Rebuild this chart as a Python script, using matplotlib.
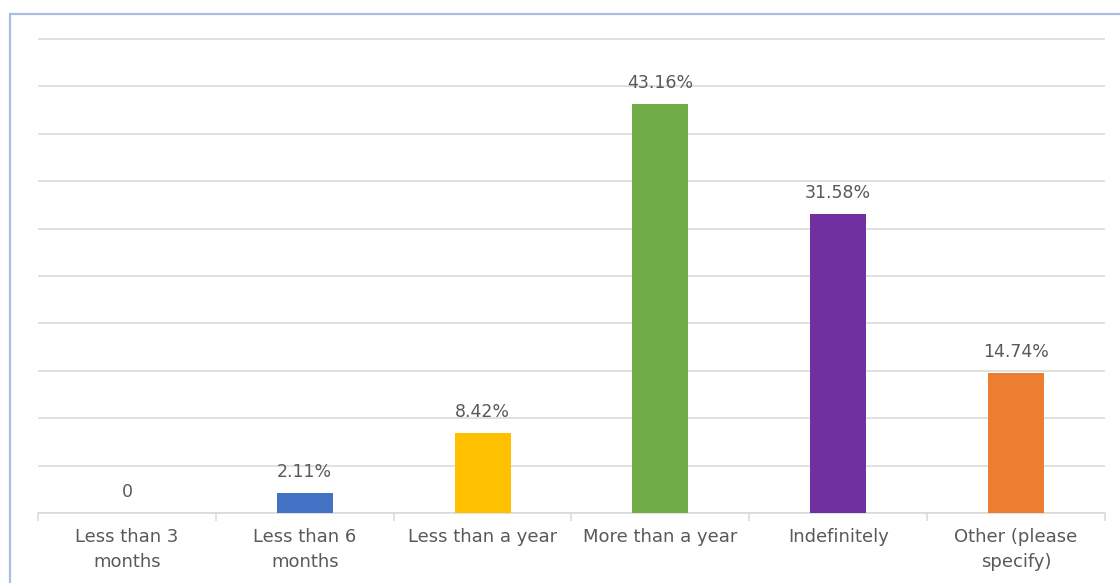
import matplotlib.pyplot as plt
from matplotlib.patches import Rectangle
from matplotlib.ticker import MultipleLocator, FixedLocator

categories = ["Less than 3\nmonths", "Less than 6\nmonths", "Less than a year",
              "More than a year", "Indefinitely", "Other (please\nspecify)"]
values = [0, 2.11, 8.42, 43.16, 31.58, 14.74]
labels = ["0", "2.11%", "8.42%", "43.16%", "31.58%", "14.74%"]
colors = ["#4472C4", "#4472C4", "#FFC000", "#70AD47", "#7030A0", "#ED7D31"]

plt.rcParams['font.family'] = ['DejaVu Sans']
text_color = "#595959"

fig = plt.figure(figsize=(11.2, 5.83), dpi=100)
ax = fig.add_axes([38 / 1120, 1 - 513 / 583, (1105 - 38) / 1120, (513 - 37) / 583])

# outer chart frame, open to the right and bottom
fig.patches.append(Rectangle((10 / 1120, -0.1), 1.2, 1.1 - 14 / 583,
                             transform=fig.transFigure, fill=False,
                             edgecolor="#A7BDE6", linewidth=1.6))

x = range(len(values))
ax.bar(x, values, width=0.315, color=colors, zorder=3)

for i, (v, t) in enumerate(zip(values, labels)):
    ax.annotate(t, (i, v), xytext=(0, 15), textcoords="offset points",
                ha="center", va="center", fontsize=12.5, color=text_color)

ax.set_xlim(-0.5, len(values) - 0.5)
ax.set_ylim(0, 50.2)
ax.yaxis.set_major_locator(MultipleLocator(5))
ax.yaxis.grid(True, color="#D9D9D9", linewidth=1.1, zorder=0)
ax.tick_params(axis="y", left=False, labelleft=False)

ax.set_xticks(list(x))
ax.set_xticklabels(categories, fontsize=13, color=text_color, linespacing=1.5)
ax.tick_params(axis="x", length=0, pad=11)
ax.xaxis.set_minor_locator(FixedLocator([i - 0.5 for i in range(len(values) + 1)]))
ax.tick_params(axis="x", which="minor", length=5.5, color="#D9D9D9", width=1.1)

for s in ["top", "right", "left"]:
    ax.spines[s].set_visible(False)
ax.spines["bottom"].set_color("#D9D9D9")
ax.spines["bottom"].set_linewidth(1.1)

fig.savefig("out.png", dpi=100)
